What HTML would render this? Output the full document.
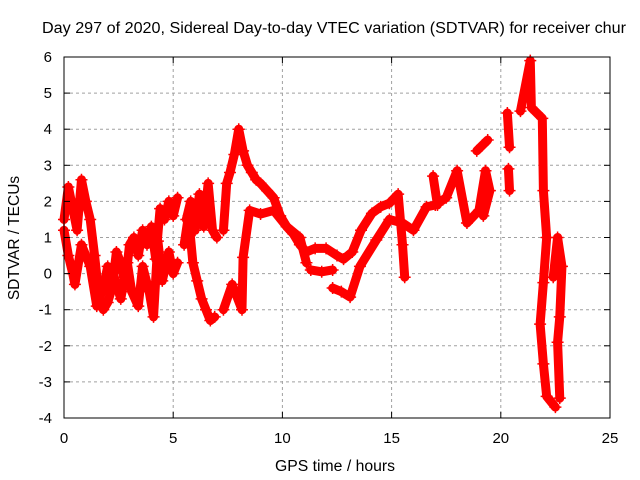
<!DOCTYPE html>
<html><head><meta charset="utf-8"><style>
body{margin:0;background:#fff}
svg{display:block;font-family:"Liberation Sans",sans-serif}
</style></head><body>
<svg id="chart" width="640" height="480">
<text x="42" y="33" font-size="15.5" textLength="584" lengthAdjust="spacingAndGlyphs">Day 297 of 2020, Sidereal Day-to-day VTEC variation (SDTVAR) for receiver chur</text>
<text x="275" y="471" font-size="15.5" textLength="120" lengthAdjust="spacingAndGlyphs">GPS time / hours</text>
<text transform="translate(19,238) rotate(-90)" font-size="15.5" text-anchor="middle">SDTVAR / TECUs</text>
<g id="grid"></g>
<g id="marks"></g>
<rect x="64" y="57" width="546" height="361" fill="none" stroke="#000" stroke-width="1"/>
<g id="ticks"></g>
</svg>
<script>
const xTicks=[0,5,10,15,20,25];
const yTicks=[-4,-3,-2,-1,0,1,2,3,4,5,6];
const trackA=[[0,1.5],[0.2,2.4],[0.4,1.8],[0.6,1.2],[0.8,2.6],[1.0,2.0],[1.2,1.5],[1.4,0.5],[1.6,-0.6],[1.8,-1.0],[2.0,-0.8],[2.2,-0.4],[2.4,0.6],[2.6,0.3],[2.8,-0.3],[3.0,0.8],[3.2,1.0],[3.4,0.5],[3.6,1.2],[3.8,0.8],[4.0,1.3],[4.2,0.4],[4.4,1.8],[4.6,1.5],[4.8,2.0],[5.0,1.6],[5.2,2.1]];
const trackB=[[0,1.2],[0.2,0.5],[0.4,0.0],[0.5,-0.3],[0.8,0.8],[1.2,0.2],[1.5,-0.9],[1.8,-0.4],[2.0,0.2],[2.3,-0.1],[2.6,-0.7],[2.9,0.3],[3.1,-0.5],[3.4,-0.9],[3.6,0.2],[3.9,-0.5],[4.1,-1.2],[4.3,0.9],[4.5,-0.2],[4.8,0.6],[5.0,0.0],[5.2,0.3]];
const trackC=[[5.5,0.8],[5.7,1.6],[5.9,0.3],[6.1,-0.2],[6.3,-0.7],[6.5,-1.0],[6.7,-1.3],[6.9,-1.2]];
const trackD=[[5.6,1.5],[5.8,2.0],[6.0,1.2],[6.2,2.2],[6.4,1.3],[6.6,2.5],[6.8,1.2],[7.0,1.0]];
const trackE=[[7.3,1.2],[7.45,2.5],[7.6,2.8],[7.8,3.3],[8.0,4.0],[8.2,3.4],[8.4,3.0],[8.6,2.8],[8.8,2.6],[9.0,2.5],[9.3,2.3],[9.6,2.1],[9.9,1.6],[10.2,1.3],[10.5,1.1],[10.8,0.8],[11.1,0.6],[11.5,0.7],[12.0,0.7],[12.5,0.5],[12.8,0.4],[13.2,0.6],[13.6,1.2],[14.1,1.67],[14.5,1.85],[14.9,1.95],[15.3,2.2],[15.5,0.8],[15.6,-0.1]];
const trackF=[[7.3,-1.0],[7.7,-0.3],[8.15,-1.0],[8.2,0.45],[8.5,1.75],[9.0,1.65],[9.6,1.75],[10.2,1.3],[10.8,1.0],[11.1,0.3]];
const trackG=[[11.3,0.1],[11.8,0.05],[12.3,0.1]];
const trackH=[[12.3,-0.4],[12.7,-0.5],[13.1,-0.65],[13.55,0.2],[14.3,0.93],[14.9,1.5],[15.5,1.4],[16.0,1.2],[16.6,1.85],[17.0,1.9],[17.5,2.1],[18.0,2.85],[18.45,1.4],[19.0,1.75],[19.3,2.85],[19.5,2.3],[19.2,1.6]];
const trackI=[[16.9,2.7],[17.1,1.9]];
const trackJ=[[18.9,3.4],[19.4,3.7]];
const trackK=[[20.3,4.45],[20.4,3.5]];
const trackL=[[20.35,2.9],[20.4,2.3]];
const trackM=[[20.9,4.5],[21.35,5.9],[21.4,4.6],[21.9,4.3],[21.95,2.3],[22.1,1.0],[21.95,-0.25],[21.8,-1.4],[21.95,-2.5],[22.1,-3.4],[22.5,-3.7]];
const trackN=[[22.4,-0.1],[22.6,1.0],[22.8,0.2],[22.7,-1.2],[22.6,-1.9],[22.7,-3.45]];
const tracks=[trackA,trackB,trackC,trackD,trackE,trackF,trackG,trackH,trackI,trackJ,trackK,trackL,trackM,trackN];
const NS='http://www.w3.org/2000/svg';
const X0=64,X1=610,Y0=418,Y1=57;
function sx(h){return X0+(h-0)/(25-0)*(X1-X0);}
function sy(v){return Y0-(v+4)/(6+4)*(Y0-Y1);}
const grid=document.getElementById('grid'),ticks=document.getElementById('ticks'),marks=document.getElementById('marks');
function mk(tag,attrs,parent){const e=document.createElementNS(NS,tag);for(const k in attrs)e.setAttribute(k,attrs[k]);parent.appendChild(e);return e;}
xTicks.forEach(t=>{
  const x=sx(t);
  if(t>0&&t<25){const g=mk('line',{x1:x,x2:x,y1:Y1,y2:Y0,stroke:'#a0a0a0','stroke-dasharray':'3,3'},grid);
  
  }
  const a=mk('line',{x1:x,x2:x,y1:Y0,y2:Y0-6,stroke:'#000'},ticks);
  
  
  const b=mk('line',{x1:x,x2:x,y1:Y1,y2:Y1+6,stroke:'#000'},ticks);
  
  
  const l=mk('text',{x:x,y:Y0+25,'font-size':15,'text-anchor':'middle'},ticks);l.textContent=t;
  
  
});
yTicks.forEach(t=>{
  const y=sy(t);
  if(t>-4&&t<6){const g=mk('line',{x1:X0,x2:X1,y1:y,y2:y,stroke:'#a0a0a0','stroke-dasharray':'3,3'},grid);
  
  }
  const a=mk('line',{x1:X0,x2:X0+6,y1:y,y2:y,stroke:'#000'},ticks);
  
  
  const b=mk('line',{x1:X1,x2:X1-6,y1:y,y2:y,stroke:'#000'},ticks);
  
  
  const l=mk('text',{x:X0-12,y:y+5,'font-size':15,'text-anchor':'end'},ticks);l.textContent=t;
  
  
});
tracks.forEach(tr=>{
  const p=mk('polyline',{points:tr.map(d=>sx(d[0])+','+sy(d[1])).join(' '),fill:'none',stroke:'#ff0000','stroke-width':9,'stroke-linejoin':'round','stroke-linecap':'round'},marks);
  
  
  tr.forEach(d=>{
    const x=sx(d[0]),y=sy(d[1]);
    const m=mk('path',{d:`M${x-6},${y}H${x+6}M${x},${y-6}V${y+6}`,stroke:'#ff0000','stroke-width':1.5},marks);
    
    
  });
});
</script>
</body></html>
